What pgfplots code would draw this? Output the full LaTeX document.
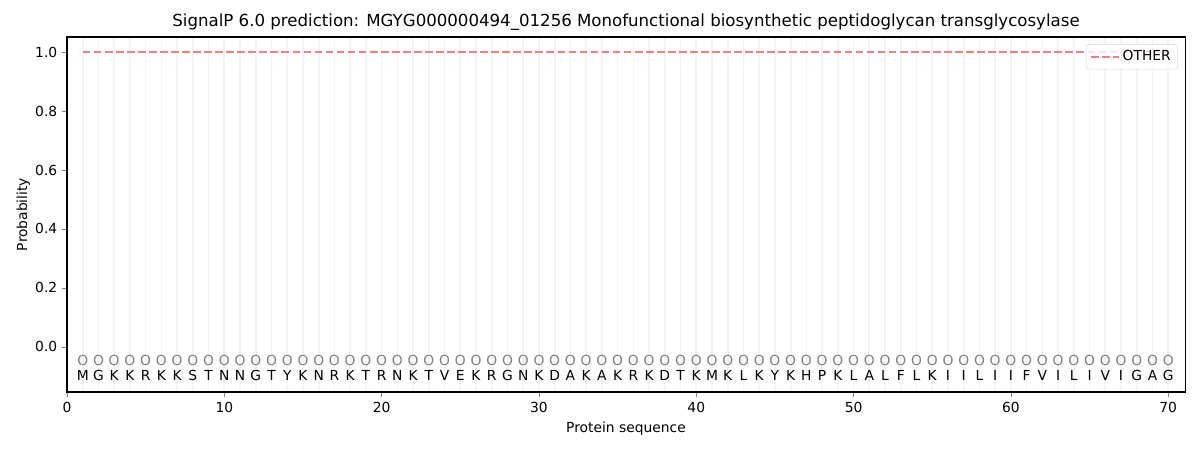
\documentclass[border=0pt]{standalone}
\usepackage{fontspec}
\setmainfont{DejaVu Sans}
\usepackage{pgfplots}
\pgfplotsset{compat=1.18}
\usepackage{pgfplotstable}
\definecolor{other}{RGB}{240,128,128}
\definecolor{gridc}{RGB}{243,243,243}
\pgfplotstableread{
x aa
1 M
2 G
3 K
4 K
5 R
6 K
7 K
8 S
9 T
10 N
11 N
12 G
13 T
14 Y
15 K
16 N
17 R
18 K
19 T
20 R
21 N
22 K
23 T
24 V
25 E
26 K
27 R
28 G
29 N
30 K
31 D
32 A
33 K
34 A
35 K
36 R
37 K
38 D
39 T
40 K
41 M
42 K
43 L
44 K
45 Y
46 K
47 H
48 P
49 K
50 L
51 A
52 L
53 F
54 L
55 K
56 I
57 I
58 L
59 I
60 I
61 F
62 V
63 I
64 L
65 I
66 V
67 I
68 G
69 A
70 G
}\seqtable
\begin{document}
\begin{tikzpicture}
\useasboundingbox (-48.24bp,-41.76bp) rectangle (815.76bp,282.24bp);
\begin{axis}[
  at={(0,0)}, anchor=south west,
  scale only axis, width=805bp, height=255.6bp,
  xmin=0, xmax=71.07, ymin=-0.153, ymax=1.051,
  xtick={0,10,...,70},
  ytick={0,0.2,...,1.0},
  yticklabel style={/pgf/number format/.cd,fixed,fixed zerofill,precision=1},
  /pgf/number format/assume math mode=true,
  tick label style={font=\fontsize{10}{12}\selectfont},
  tick align=outside, tick pos=left,
  major tick length=3.5bp,
  minor xtick={1,...,70},
  minor tick length=0pt,
  xminorgrids,
  minor grid style={gridc, line width=1.2bp},
  axis line style={line width=0.8bp},
  xlabel={Protein sequence}, ylabel={Probability},
  label style={font=\fontsize{10}{12}\selectfont},
  ylabel style={yshift=-3bp},
  title={SignalP 6.0 prediction: MGYG000000494\_01256 Monofunctional biosynthetic peptidoglycan transglycosylase},
  title style={font=\fontsize{12}{14}\selectfont, yshift=-5bp},
  legend style={at={(0.9937,0.98)}, anchor=north east, font=\fontsize{10}{12}\selectfont, draw=black!15, fill=white, fill opacity=0.8, draw opacity=1, text opacity=1, rounded corners=2bp, inner xsep=3bp, inner ysep=2.5bp},
  legend cell align=left,
  legend image code/.code={\draw[#1] (0cm,0cm) -- (0.7cm,0cm);},
]
\addplot[other, line width=1.5bp, dash pattern=on 5.55bp off 2.4bp] coordinates {(1,1) (70,1)};
\addlegendentry{OTHER}
\addplot[draw=none, mark=none, forget plot,
  nodes near coords={O},
  every node near coord/.append style={anchor=center, inner sep=0pt, font=\fontsize{10}{12}\selectfont, text=black!50}]
  table[x=x, y expr=-0.047] {\seqtable};
\addplot[draw=none, mark=none, forget plot, point meta=explicit symbolic,
  nodes near coords,
  every node near coord/.append style={anchor=center, inner sep=0pt, font=\fontsize{10}{12}\selectfont, text=black}]
  table[x=x, y expr=-0.098, meta=aa] {\seqtable};
\end{axis}
\end{tikzpicture}
\end{document}
